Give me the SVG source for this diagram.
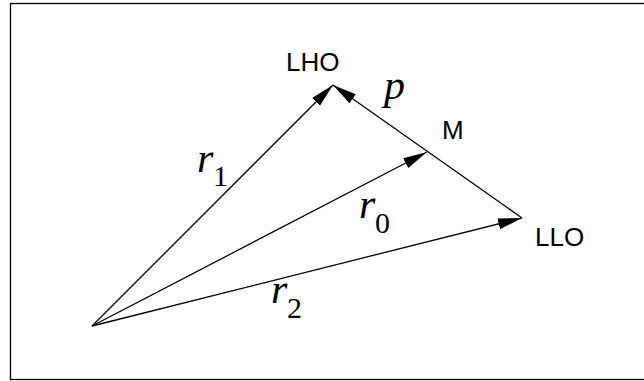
<svg xmlns="http://www.w3.org/2000/svg" width="644" height="381" viewBox="0 0 644 381">
<defs>
<marker id="ah" markerUnits="userSpaceOnUse" markerWidth="24" markerHeight="12" refX="24" refY="6" orient="auto">
<path d="M0,0.5 L24,6 L0,11.5 z" fill="#000"/>
</marker>
<style>
.frame{fill:none;stroke:#000;stroke-width:1.3}
.vec{stroke:#000;stroke-width:1.3;fill:none;marker-end:url(#ah)}
.lbl{font-family:"Liberation Sans",Arial,sans-serif;font-size:26px;fill:#000}
.sym{font-family:"Liberation Serif","Times New Roman",serif;font-style:italic;font-size:42px;fill:#000}
.sub{font-family:"Liberation Serif","Times New Roman",serif;font-size:30px;fill:#000}
</style>
</defs>
<rect class="frame" x="10.5" y="3.5" width="640" height="376"/>
<g id="connectors">
<line class="vec" x1="92" y1="326" x2="333" y2="85"/>
<line class="vec" x1="92" y1="326" x2="427" y2="152"/>
<line class="vec" x1="92" y1="326" x2="522" y2="218"/>
<line class="vec" x1="522" y1="218" x2="333" y2="85"/>
</g>
<g id="LHO"><text class="lbl" x="286" y="71">LHO</text></g>
<g id="M"><text class="lbl" x="442" y="139">M</text></g>
<g id="LLO"><text class="lbl" x="535" y="246">LLO</text></g>
<g id="p"><text class="sym" x="384" y="99">p</text></g>
<g id="r1"><text class="sym" x="197" y="172">r</text><text class="sub" x="213" y="186">1</text></g>
<g id="r0"><text class="sym" x="359" y="218">r</text><text class="sub" x="375" y="233">0</text></g>
<g id="r2"><text class="sym" x="271" y="303">r</text><text class="sub" x="287" y="318">2</text></g>
</svg>
